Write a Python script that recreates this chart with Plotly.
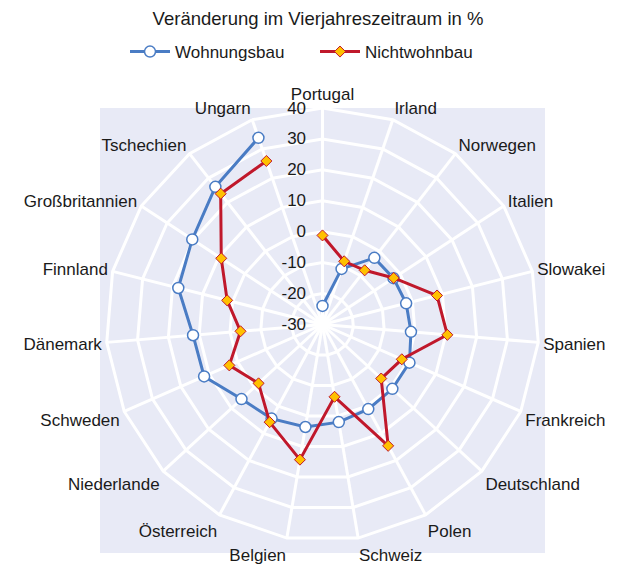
import plotly.graph_objects as go

categories = ["Portugal", "Irland", "Norwegen", "Italien", "Slowakei", "Spanien",
              "Frankreich", "Deutschland", "Polen", "Schweiz", "Belgien", "Österreich",
              "Niederlande", "Schweden", "Dänemark", "Finnland", "Großbritannien",
              "Tschechien", "Ungarn"]
wohnungsbau = [-24, -11, -2.7, -2.6, -2.1, -1.3, 0.7, 0.7, 1.1, 2, 3.6, 4.6,
               5.6, 11.8, 12, 18.1, 20.3, 26.4, 33.8]
nichtwohnbau = [-1.2, -8.4, -7.8, -2.5, 8.2, 10.5, -2, -4.2, 14.6, -6.3, 14.3, 5.9,
                -1.9, 2.9, -3.4, 1.8, 9.1, 23.6, 25.9]
radial_ticks = [-30, -20, -10, 0, 10, 20, 30, 40]

# the radial axis starts at -30; plot offsets from that base so the axis range starts at 0
R_MIN, R_MAX = -30, 40


def shift(vals):
    return [v - R_MIN for v in vals]


BG = "#E8EAF6"
BLUE = "#4A7CC4"
RED = "#C0182B"
FONT = "Arial, Liberation Sans, sans-serif"
TXT = "#1a1a1a"

fig = go.Figure()
fig.add_trace(go.Scatterpolar(
    r=shift(wohnungsbau), theta=categories, name="Wohnungsbau", mode="lines+markers",
    customdata=wohnungsbau, hovertemplate="%{theta}: %{customdata}<extra>Wohnungsbau</extra>",
    line=dict(color=BLUE, width=3),
    marker=dict(symbol="circle", size=11, color="white", line=dict(color=BLUE, width=1.5)),
))
fig.add_trace(go.Scatterpolar(
    r=shift(nichtwohnbau), theta=categories, name="Nichtwohnbau", mode="lines+markers",
    customdata=nichtwohnbau, hovertemplate="%{theta}: %{customdata}<extra>Nichtwohnbau</extra>",
    line=dict(color=RED, width=3),
    marker=dict(symbol="diamond", size=8.5, color="#FFC000", line=dict(color=RED, width=1)),
))

fig.update_layout(
    width=626, height=565,
    margin=dict(l=92, r=89, t=100, b=20),
    paper_bgcolor="white",
    font=dict(family=FONT, size=17, color=TXT),
    title=dict(text="Veränderung im Vierjahreszeitraum in %", x=310/626, xanchor="center",
               xref="container", y=1 - 11/565, yanchor="middle", yref="container",
               font=dict(size=18.5, color=TXT)),
    showlegend=True,
    legend=dict(orientation="h", x=(117 - 92) / 445, xanchor="left",
                y=(545 - 44) / 445, yanchor="middle",
                font=dict(size=17, color=TXT), bgcolor="rgba(0,0,0,0)",
                itemwidth=40, entrywidth=135, entrywidthmode="pixels"),
    shapes=[dict(type="rect", xref="paper", yref="paper", x0=0, x1=1, y0=0, y1=1,
                 fillcolor=BG, line=dict(width=0), layer="below")],
    polar=dict(
        bgcolor=BG,
        gridshape="linear",
        domain=dict(x=[6 / 445, 439 / 445], y=[12 / 445, 1]),
        radialaxis=dict(range=shift([R_MIN, R_MAX]), tickvals=shift(radial_ticks),
                        ticktext=[str(t) for t in radial_ticks], angle=90, tickangle=90,
                        side="counterclockwise", showline=False, gridcolor="white",
                        gridwidth=3, ticks="outside", ticklen=10,
                        tickcolor="rgba(0,0,0,0)", tickfont=dict(size=17, color=TXT)),
        angularaxis=dict(direction="clockwise", rotation=90, gridcolor="white", gridwidth=3,
                         showline=True, linecolor="white", linewidth=3, ticks="", ticklen=0,
                         tickfont=dict(size=17, color=TXT)),
    ),
)

fig.write_html("out.html")
